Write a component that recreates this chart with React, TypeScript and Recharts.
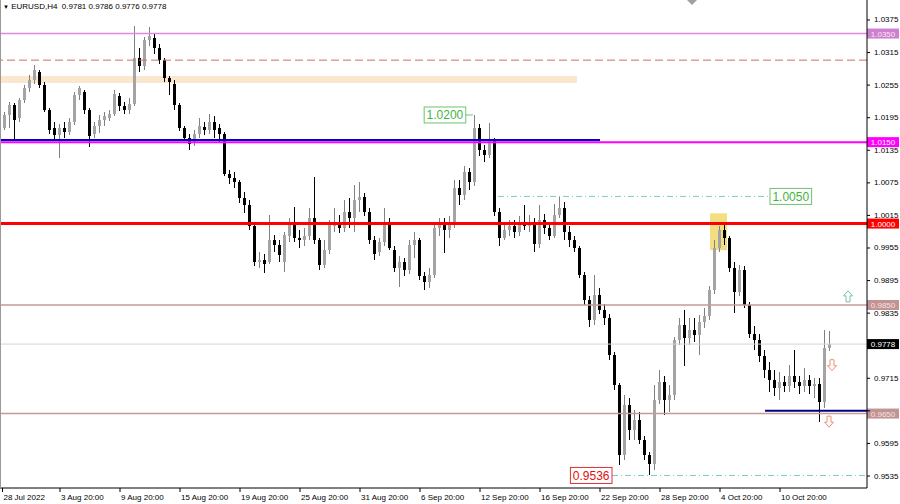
import React from "react";
import {
  ComposedChart,
  Bar,
  XAxis,
  YAxis,
  ReferenceLine,
  ReferenceArea,
  ReferenceDot,
} from "recharts";

// EURUSD H4, one candle here = two H4 bars
const opens = [
  1.0176, 1.02, 1.0218, 1.0194, 1.0228, 1.025, 1.0264, 1.0279, 1.0255, 1.0209,
  1.0176, 1.0163, 1.0176, 1.0169, 1.0187, 1.0237, 1.0242, 1.0209, 1.0165, 1.018,
  1.0191, 1.0194, 1.0202, 1.0235, 1.0217, 1.0209, 1.022, 1.0305, 1.029, 1.0338,
  1.0342, 1.0323, 1.0301, 1.0268, 1.0257, 1.0218, 1.0176, 1.0158, 1.015, 1.0165,
  1.0178, 1.0172, 1.0187, 1.0176, 1.0165, 1.0091, 1.0084, 1.0077, 1.0047, 1.0034,
  0.9996, 0.9929, 0.9933, 0.9929, 0.997, 0.9961, 0.9929, 0.9977, 0.9997, 0.9973,
  0.997, 0.9977, 1.001, 0.997, 0.9924, 0.9951, 0.9996, 1.0003, 0.9992, 1.0021,
  1.001, 1.0043, 1.0049, 1.0021, 0.997, 0.9948, 0.9966, 1.0003, 0.9951, 0.9918,
  0.9929, 0.9914, 0.9961, 0.997, 0.9903, 0.9892, 0.9905, 0.9992, 1.0003, 0.9988,
  0.9997, 1.0066, 1.0053, 1.0095, 1.0077, 1.0176, 1.0135, 1.0126, 1.0154, 1.0021,
  0.9973, 0.9988, 0.9996, 0.9984, 1.0003, 0.9996, 1.0003, 0.9962, 1.0007, 0.9992,
  0.9977, 1.0016, 1.0029, 0.9984, 0.997, 0.9955, 0.9905, 0.9859, 0.9822, 0.9868,
  0.9841, 0.9826, 0.9758, 0.9703, 0.9574, 0.9666, 0.962, 0.9638, 0.9601, 0.9574,
  0.9557, 0.9675, 0.9708, 0.9675, 0.9684, 0.9786, 0.9813, 0.9789, 0.9804, 0.9795,
  0.9819, 0.983, 0.9878, 0.9955, 0.9988, 0.9973, 0.9918, 0.9874, 0.9914, 0.985,
  0.9797, 0.9786, 0.9756, 0.973, 0.9712, 0.9697, 0.9708, 0.9701, 0.9719, 0.9708,
  0.9701, 0.9712, 0.9701, 0.9705, 0.9671, 0.9771,
];
const highs = [
  1.0205, 1.0224, 1.0222, 1.0231, 1.0255, 1.0274, 1.0292, 1.0283, 1.0261, 1.0213,
  1.0187, 1.0183, 1.0187, 1.0194, 1.0242, 1.0253, 1.0246, 1.0213, 1.0187, 1.02,
  1.0205, 1.0209, 1.0246, 1.0241, 1.0224, 1.0231, 1.0364, 1.0323, 1.0344, 1.0362,
  1.0349, 1.0331, 1.0305, 1.0272, 1.0264, 1.0222, 1.018, 1.0165, 1.0172, 1.0194,
  1.0187, 1.0202, 1.0198, 1.0183, 1.0169, 1.0099, 1.0095, 1.008, 1.0058, 1.0043,
  0.9999, 0.9948, 0.9944, 1.0016, 0.9979, 0.997, 0.9984, 1.001, 1.003, 0.9988,
  0.9992, 1.0029, 1.0086, 0.9973, 0.997, 1.0007, 1.0029, 1.0016, 1.0043, 1.0047,
  1.0071, 1.0077, 1.0056, 1.0029, 0.9977, 0.9973, 1.0029, 1.001, 0.9959, 0.994,
  0.9937, 0.997, 0.9984, 0.9973, 0.9911, 0.9918, 1.0003, 1.001, 1.001, 1.0014,
  1.008, 1.008, 1.0106, 1.0102, 1.02, 1.0183, 1.0145, 1.0185, 1.0158, 1.0029,
  1.0003, 1.0007, 1.0007, 1.0014, 1.0034, 1.0016, 1.001, 1.0034, 1.0018, 0.9999,
  1.0036, 1.0049, 1.004, 0.9996, 0.9977, 0.9959, 0.9911, 0.9867, 0.9905, 0.9881,
  0.9852, 0.9833, 0.9763, 0.9706, 0.9684, 0.9679, 0.9657, 0.9653, 0.9609, 0.9579,
  0.9703, 0.973, 0.9719, 0.9703, 0.9791, 0.9826, 0.9841, 0.9826, 0.9826, 0.9832,
  0.9844, 0.9885, 0.997, 0.9996, 0.9999, 0.9977, 0.9929, 0.9924, 0.9922, 0.9856,
  0.9811, 0.9797, 0.9767, 0.9745, 0.973, 0.9727, 0.9719, 0.974, 0.9767, 0.9719,
  0.9734, 0.9721, 0.9716, 0.9716, 0.9804, 0.9802,
];
const lows = [
  1.0172, 1.0176, 1.0154, 1.0187, 1.0222, 1.0242, 1.0257, 1.025, 1.0205, 1.0165,
  1.0154, 1.0121, 1.0158, 1.0163, 1.0182, 1.0228, 1.0202, 1.0141, 1.0158, 1.0167,
  1.018, 1.0189, 1.0198, 1.0207, 1.0202, 1.0202, 1.0217, 1.0279, 1.0283, 1.0327,
  1.0312, 1.0294, 1.0261, 1.0237, 1.0209, 1.0171, 1.0152, 1.0135, 1.0143, 1.0158,
  1.0163, 1.0165, 1.0158, 1.0148, 1.0088, 1.0073, 1.0066, 1.0038, 1.0019, 0.9988,
  0.9922, 0.9918, 0.9909, 0.9926, 0.9948, 0.9929, 0.9911, 0.9966, 0.9966, 0.9955,
  0.9959, 0.997, 0.9962, 0.9914, 0.9918, 0.9944, 0.9984, 0.9983, 0.9984, 0.9992,
  0.9984, 1.0021, 1.0014, 0.9962, 0.9933, 0.994, 0.9959, 0.9951, 0.9911, 0.9883,
  0.9903, 0.9907, 0.9937, 0.9896, 0.9878, 0.9881, 0.99, 0.9977, 0.9946, 0.9973,
  0.9992, 1.0034, 1.0043, 1.0062, 1.0069, 1.0124, 1.0113, 1.0121, 1.0014, 0.9959,
  0.997, 0.9977, 0.9973, 0.9977, 0.9988, 0.9984, 0.9948, 0.9955, 0.9981, 0.997,
  0.9973, 1.001, 0.997, 0.9957, 0.9948, 0.99, 0.985, 0.981, 0.9813, 0.9833,
  0.9813, 0.9749, 0.9693, 0.9555, 0.9565, 0.9601, 0.9601, 0.9594, 0.9565, 0.9536,
  0.9546, 0.9668, 0.9647, 0.9653, 0.9675, 0.9776, 0.9738, 0.9776, 0.9782, 0.9758,
  0.9808, 0.9822, 0.987, 0.9948, 0.9961, 0.9911, 0.9835, 0.9867, 0.9844, 0.9789,
  0.9767, 0.9745, 0.9716, 0.969, 0.9682, 0.9675, 0.969, 0.969, 0.9697, 0.9686,
  0.969, 0.9686, 0.9679, 0.9634, 0.966, 0.9766,
];
const closes = [
  1.02, 1.0218, 1.0191, 1.0228, 1.025, 1.0264, 1.0283, 1.0255, 1.0209, 1.0172,
  1.0163, 1.0176, 1.0169, 1.0187, 1.0237, 1.025, 1.0209, 1.0161, 1.018, 1.0191,
  1.0198, 1.0202, 1.0239, 1.0217, 1.0209, 1.022, 1.0305, 1.029, 1.0338, 1.0345,
  1.0323, 1.0301, 1.0268, 1.0261, 1.0218, 1.0176, 1.0158, 1.0147, 1.0165, 1.018,
  1.0172, 1.0187, 1.0172, 1.0165, 1.0091, 1.0084, 1.0077, 1.0047, 1.0034, 0.9996,
  0.9929, 0.9933, 0.9926, 0.997, 0.9961, 0.9942, 0.9979, 0.9997, 0.9973, 0.997,
  0.9977, 1.001, 0.997, 0.9924, 0.9951, 0.9997, 1.0003, 0.9992, 1.0021, 1.001,
  1.0043, 1.0049, 1.0021, 0.997, 0.9944, 0.9966, 1.0003, 0.9955, 0.9918, 0.9929,
  0.9914, 0.9961, 0.997, 0.9903, 0.9892, 0.9905, 0.9992, 1.0003, 0.9988, 0.9997,
  1.0066, 1.0053, 1.0095, 1.0077, 1.0176, 1.0135, 1.0126, 1.0154, 1.0021, 0.9973,
  0.9988, 0.9996, 0.9984, 1.0003, 0.9996, 1.0003, 0.9962, 1.0007, 0.9992, 0.9977,
  1.0016, 1.0029, 0.9984, 0.997, 0.9955, 0.9905, 0.9859, 0.9822, 0.9868, 0.9841,
  0.9826, 0.9758, 0.9703, 0.9574, 0.9666, 0.962, 0.9638, 0.9601, 0.9574, 0.9557,
  0.9675, 0.9708, 0.9675, 0.9684, 0.9786, 0.9813, 0.9789, 0.9804, 0.9795, 0.9819,
  0.983, 0.9878, 0.9955, 0.9988, 0.9973, 0.9918, 0.9874, 0.9914, 0.985, 0.9797,
  0.9786, 0.9756, 0.973, 0.9712, 0.9697, 0.9708, 0.9701, 0.9719, 0.9708, 0.9701,
  0.9712, 0.9701, 0.9705, 0.9671, 0.9771, 0.9778,
];

// H4 bar index of each tick
const tickBars = [0, 23, 47, 71, 95, 119, 143, 167, 191, 215, 239, 263, 287, 311];
const tickLabels = [
  "28 Jul 2022", "3 Aug 20:00", "9 Aug 20:00", "15 Aug 20:00", "19 Aug 20:00",
  "25 Aug 20:00", "31 Aug 20:00", "6 Sep 20:00", "12 Sep 20:00", "16 Sep 20:00",
  "22 Sep 20:00", "28 Sep 20:00", "4 Oct 20:00", "10 Oct 20:00",
];
const priceTicks = [
  1.0375, 1.0315, 1.0255, 1.0195, 1.0135, 1.0075, 1.0015, 0.9955, 0.9895,
  0.9835, 0.9775, 0.9715, 0.9655, 0.9595, 0.9535,
];

// drawn levels
const lastBar = { open: 0.9781, high: 0.9786, low: 0.9776, close: 0.9778 };
const upperLevel = 1.035;
const dashedLevel = 1.0301;
const zone = [1.0259, 1.0272];
const zoneEndBar = 229.8;
const blueLevel = 1.0154;
const blueEndBar = 239;
const level1015 = 1.015;
const parity = 1.0;
const target = 1.005;
const targetBars = [198.2, 307];
const level0985 = 0.985;
const level0965 = 0.965;
const navyLevel = 0.9655;
const navyStartBar = 305;
const swingLow = 0.9536;
const swingLowStartBar = 243.8;
const peakBox = { bars: [283, 289.8], prices: [0.9951, 1.0019] };
const swingHigh = { bar: 188.5, price: 1.02 };
const upArrows = [{ bar: 338.2, price: 0.9865 }];
const downArrows = [
  { bar: 331.8, price: 0.974 },
  { bar: 330.6, price: 0.9636 },
];
const taggedLevels = [upperLevel, level1015, parity, level0985, lastBar.close, level0965];

const X_DOMAIN = [-1, 345.8];
const Y_DOMAIN = [0.95129, 1.04118];
const FONT = "'Liberation Sans', Arial, sans-serif";

const candles = opens.map((o, i) => ({
  t: i * 2 + 0.5,
  open: o,
  high: highs[i],
  low: lows[i],
  close: closes[i],
  range: [lows[i], highs[i]],
}));

const Candle = (props: any) => {
  const { x, y, width, height, payload } = props;
  if (x == null || y == null || !payload) return null;
  const top = Math.min(y, y + height);
  const bottom = Math.max(y, y + height);
  const span = payload.high - payload.low;
  const k = span > 0 ? (bottom - top) / span : 0;
  const yOpen = top + (payload.high - payload.open) * k;
  const yClose = top + (payload.high - payload.close) * k;
  const up = payload.close >= payload.open;
  const cx = Math.round(x + width / 2) + 0.5;
  const bodyTop = Math.min(yOpen, yClose);
  const bodyH = Math.max(1, Math.abs(yClose - yOpen));
  return (
    <g shapeRendering="crispEdges">
      <line
        x1={cx}
        x2={cx}
        y1={top}
        y2={bottom}
        stroke={up ? "#808080" : "#000"}
        strokeWidth={1}
      />
      <rect
        x={cx - 1.5}
        y={bodyTop}
        width={3}
        height={bodyH}
        fill={up ? "#a4a4a4" : "#000"}
      />
    </g>
  );
};

const XTick = (props: any) => {
  const { x, payload } = props;
  const i = tickBars.indexOf(payload.value);
  return (
    <text x={x + 1} y={500} fontSize={8} fontFamily={FONT} fill="#000">
      {tickLabels[i]}
    </text>
  );
};

// the price tags sit on top of the scale, so a tick under a tag is not seen
const YTick = (props: any) => {
  const { x, y, payload } = props;
  const covered = taggedLevels.some((v) => Math.abs(v - payload.value) < 0.0009);
  if (covered) return null;
  return (
    <text x={x + 2} y={y + 2.5} fontSize={8} fontFamily={FONT} fill="#000">
      {payload.value.toFixed(4)}
    </text>
  );
};

// price tag on the right axis
const axisTag = (value: number, bg: string, fg: string) => (props: any) => {
  const vb = props.viewBox;
  if (!vb) return null;
  const y = vb.y;
  return (
    <g>
      <rect x={867} y={y - 5} width={32} height={10} fill={bg} />
      <text
        x={883}
        y={y + 3}
        textAnchor="middle"
        fontSize={8}
        fontFamily={FONT}
        fill={fg}
      >
        {value.toFixed(4)}
      </text>
    </g>
  );
};

const boxTag =
  (text: string, color: string, border: string, side: "left" | "right", gap: number) =>
  (props: any) => {
    const { cx, cy } = props;
    const w = text.length * 6.6 + 2;
    const bx = side === "left" ? cx - gap - w : cx + gap;
    return (
      <g>
        {gap > 0 && (
          <line
            x1={side === "left" ? cx - gap : cx}
            x2={side === "left" ? cx - 1 : cx + gap}
            y1={cy}
            y2={cy}
            stroke={border}
          />
        )}
        <rect x={bx} y={cy - 8} width={w} height={16} fill="#fff" stroke={border} />
        <text
          x={bx + w / 2}
          y={cy + 4.5}
          textAnchor="middle"
          fontSize={12}
          fontFamily={FONT}
          fill={color}
        >
          {text}
        </text>
      </g>
    );
  };

const arrowShape = (dir: "up" | "down", color: string) => (props: any) => {
  const { cx, cy } = props;
  const s = dir === "up" ? 1 : -1;
  const d = `M ${cx} ${cy - 6 * s} L ${cx + 4.5} ${cy - 1 * s} L ${cx + 2} ${cy - 1 * s} L ${cx + 2} ${cy + 5 * s} L ${cx - 2} ${cy + 5 * s} L ${cx - 2} ${cy - 1 * s} L ${cx - 4.5} ${cy - 1 * s} Z`;
  return <path d={d} fill="#fff" stroke={color} strokeWidth={1} />;
};

export default function App() {
  return (
    <div
      style={{
        position: "absolute",
        left: 0,
        top: 0,
        width: 900,
        height: 504,
        background: "#fff",
      }}
    >
      <ComposedChart
        width={900}
        height={504}
        data={candles}
        margin={{ top: 0, right: 0, bottom: 0, left: 0 }}
      >
        <XAxis
          dataKey="t"
          type="number"
          domain={X_DOMAIN}
          allowDataOverflow
          ticks={tickBars}
          interval={0}
          height={16}
          tick={<XTick />}
          tickSize={4}
          tickLine={{ stroke: "#000" }}
          axisLine={{ stroke: "#000" }}
        />
        <YAxis
          orientation="right"
          type="number"
          domain={Y_DOMAIN}
          allowDataOverflow
          ticks={priceTicks}
          interval={0}
          width={33}
          tick={<YTick />}
          tickSize={3}
          tickLine={{ stroke: "#000" }}
          axisLine={{ stroke: "#000" }}
        />

        <ReferenceArea
          x1={X_DOMAIN[0]}
          x2={zoneEndBar}
          y1={zone[0]}
          y2={zone[1]}
          fill="#fbe7d0"
          fillOpacity={1}
          stroke="none"
        />
        <ReferenceArea
          x1={peakBox.bars[0]}
          x2={peakBox.bars[1]}
          y1={peakBox.prices[0]}
          y2={peakBox.prices[1]}
          fill="#f1d96c"
          fillOpacity={0.85}
          stroke="none"
        />

        <ReferenceLine
          y={upperLevel}
          stroke="#e088e0"
          strokeWidth={1.6}
          label={axisTag(upperLevel, "#cf7fcf", "#f6e4f6")}
        />
        <ReferenceLine
          y={dashedLevel}
          stroke="#c86e6e"
          strokeWidth={1}
          strokeDasharray="8 4"
        />
        <ReferenceLine
          y={lastBar.close}
          stroke="#d4d4d4"
          strokeWidth={1}
          label={axisTag(lastBar.close, "#000", "#fff")}
        />
        <ReferenceLine
          y={level0985}
          stroke="#c49a9a"
          strokeWidth={1.5}
          label={axisTag(level0985, "#c29393", "#f3e3e3")}
        />
        <ReferenceLine
          y={level0965}
          stroke="#c49a9a"
          strokeWidth={1.5}
          label={axisTag(level0965, "#c29393", "#f3e3e3")}
        />
        <ReferenceLine
          segment={[
            { x: targetBars[0], y: target },
            { x: targetBars[1], y: target },
          ]}
          stroke="#7ccaca"
          strokeWidth={1}
          strokeDasharray="6 3 1 3"
        />
        <ReferenceLine
          segment={[
            { x: swingLowStartBar, y: swingLow },
            { x: X_DOMAIN[1], y: swingLow },
          ]}
          stroke="#7ccaca"
          strokeWidth={1}
          strokeDasharray="6 3 1 3"
        />

        <Bar
          dataKey="range"
          barSize={3}
          shape={<Candle />}
          isAnimationActive={false}
        />

        <ReferenceLine
          segment={[
            { x: X_DOMAIN[0], y: blueLevel },
            { x: blueEndBar, y: blueLevel },
          ]}
          stroke="#0000c8"
          strokeWidth={2}
        />
        <ReferenceLine
          y={level1015}
          stroke="#ff00ff"
          strokeWidth={2}
          label={axisTag(level1015, "#ff00ff", "#ffffff")}
        />
        <ReferenceLine
          y={parity}
          stroke="#ff0000"
          strokeWidth={3}
          label={axisTag(parity, "#ff0000", "#ffffff")}
        />
        <ReferenceLine
          segment={[
            { x: navyStartBar, y: navyLevel },
            { x: X_DOMAIN[1], y: navyLevel },
          ]}
          stroke="#000080"
          strokeWidth={2}
        />

        <ReferenceDot
          x={swingHigh.bar}
          y={swingHigh.price}
          r={0}
          shape={boxTag("1.0200", "#3fb43f", "#6cc46c", "left", 8)}
        />
        <ReferenceDot
          x={targetBars[1]}
          y={target}
          r={0}
          shape={boxTag("1.0050", "#3fb43f", "#6cc46c", "right", 0)}
        />
        <ReferenceDot
          x={swingLowStartBar}
          y={swingLow}
          r={0}
          shape={boxTag("0.9536", "#e01010", "#e03030", "left", 0)}
        />
        {upArrows.map((a, i) => (
          <ReferenceDot
            key={"u" + i}
            x={a.bar}
            y={a.price}
            r={0}
            shape={arrowShape("up", "#78c2a0")}
          />
        ))}
        {downArrows.map((a, i) => (
          <ReferenceDot
            key={"d" + i}
            x={a.bar}
            y={a.price}
            r={0}
            shape={arrowShape("down", "#f0916c")}
          />
        ))}
      </ComposedChart>

      <div
        style={{
          position: "absolute",
          left: 0,
          top: 0,
          width: 1,
          height: 488,
          background: "#9a9a9a",
        }}
      />
      <div
        style={{
          position: "absolute",
          left: 3,
          top: 2,
          fontFamily: FONT,
          fontSize: 8,
          color: "#000",
          whiteSpace: "pre",
          lineHeight: "10px",
        }}
      >
        <span style={{ fontSize: 6 }}>▼</span>
        {` EURUSD,H4  ${lastBar.open.toFixed(4)} ${lastBar.high.toFixed(4)} ${lastBar.low.toFixed(4)} ${lastBar.close.toFixed(4)}`}
      </div>
      <svg
        width={12}
        height={6}
        style={{ position: "absolute", left: 687, top: 0 }}
      >
        <polygon points="0,0 10,0 5,5" fill="#a0a0a0" />
      </svg>
    </div>
  );
}
